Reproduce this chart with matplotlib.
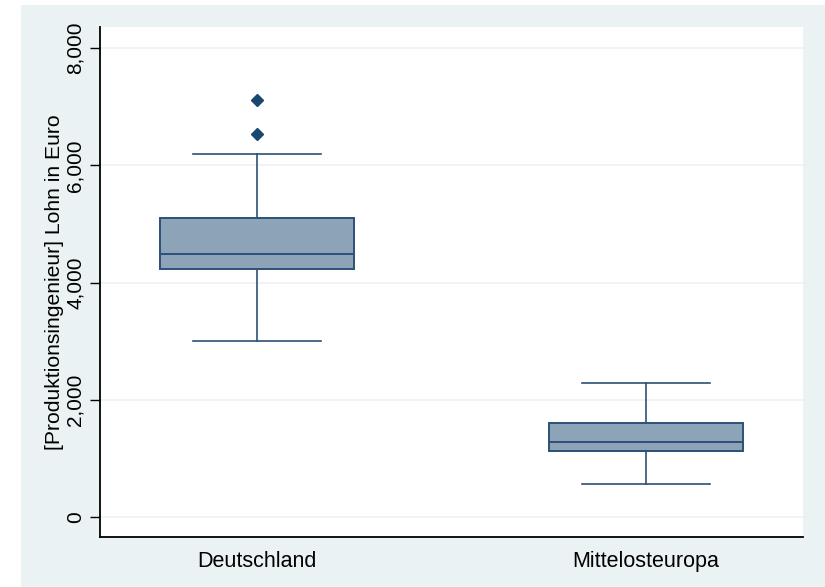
import matplotlib.pyplot as plt
from matplotlib.patches import Rectangle

plt.rcParams['font.family'] = ['Liberation Sans', 'DejaVu Sans']

# box summary per region (Euro)
regions = ["Deutschland", "Mittelosteuropa"]
whisker_low = [3000, 560]
q1 = [4230, 1130]
median = [4490, 1280]
q3 = [5110, 1605]
whisker_high = [6190, 2280]
outliers = [[6530, 7110], []]

yticks = [0, 2000, 4000, 6000, 8000]

bg = '#eaf2f3'
fill = '#8ca3b8'
edge = '#2c5077'
navy = '#1a476f'

stats = []
for i, name in enumerate(regions):
    stats.append(dict(label=name, whislo=whisker_low[i], q1=q1[i], med=median[i],
                      q3=q3[i], whishi=whisker_high[i], fliers=outliers[i]))

fig = plt.figure(figsize=(8.25, 5.87), dpi=100, facecolor='white')
fig.patches.append(Rectangle((21 / 825, 0), 1, 1 - 5 / 587, transform=fig.transFigure,
                             facecolor=bg, edgecolor='none', zorder=-1))
ax = fig.add_axes([100 / 825, 50 / 587, 703 / 825, 510 / 587])
ax.set_facecolor('white')

ax.bxp(stats, positions=[1, 2], widths=0.5, patch_artist=True, showcaps=True,
       boxprops=dict(facecolor=fill, edgecolor=edge, linewidth=1.4),
       medianprops=dict(color=edge, linewidth=1.4),
       whiskerprops=dict(color=edge, linewidth=1.2),
       capprops=dict(color=edge, linewidth=1.2),
       capwidths=0.33,
       flierprops=dict(marker='D', markersize=6, markerfacecolor=navy,
                       markeredgecolor=navy))

ax.set_xlim(0.597, 2.403)
ax.set_ylim(-341, 8362)
ax.set_yticks(yticks)
ax.set_yticklabels([f"{v:,}" for v in yticks], rotation=90, va='center', fontsize=15)
ax.tick_params(axis='y', direction='out', length=7, width=1, pad=4)
ax.tick_params(axis='x', length=0, labelsize=15.5, pad=10)
ax.grid(axis='y', color=bg, linewidth=1.2)
ax.set_axisbelow(True)

for side in ['top', 'right']:
    ax.spines[side].set_visible(False)
for side in ['left', 'bottom']:
    ax.spines[side].set_linewidth(1.3)

ax.set_ylabel("[Produktionsingenieur] Lohn in Euro", fontsize=15.2, labelpad=1)

fig.savefig("out.png", dpi=100, facecolor=fig.get_facecolor())
